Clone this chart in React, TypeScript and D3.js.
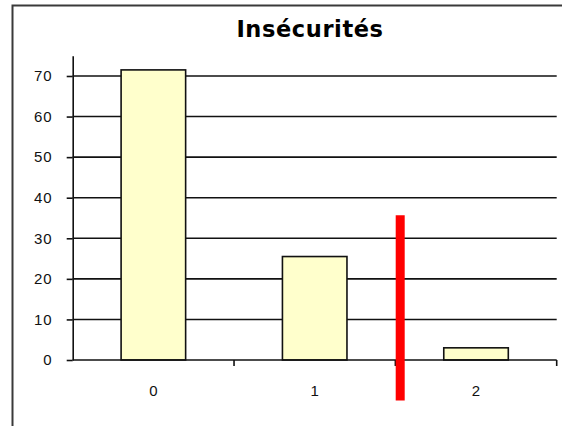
import React, { useRef, useEffect } from 'react';
import * as d3 from 'd3';

const categories = ['0', '1', '2'];
const values = [71.5, 25.5, 3.0];
const yTicks = [0, 10, 20, 30, 40, 50, 60, 70];
const title = 'Insécurités';
// red marker: position on the category axis (index units) and vertical extent
const markerPos = [1.53];
const markerRange = [-10, 35.7];

const App = () => {
  const svgRef = useRef<SVGSVGElement>(null);

  useEffect(() => {
    const width = 562;
    const height = 426;
    const svg = d3.select(svgRef.current).attr('viewBox', `0 0 ${width} ${height}`);
    svg.selectAll('*').remove();

    const left = 72.7;
    const right = 556.7;
    const bottom = 360;
    const top = 55.7;

    svg.append('rect').attr('width', width).attr('height', height).attr('fill', '#fff');

    // chart frame
    svg
      .append('path')
      .attr('d', `M12.5,${height + 5} V5.5 H${width + 5}`)
      .attr('fill', 'none')
      .attr('stroke', '#3a3a3a')
      .attr('stroke-width', 2);

    svg
      .append('text')
      .attr('x', 310)
      .attr('y', 37)
      .attr('text-anchor', 'middle')
      .attr('font-family', 'DejaVu Sans')
      .attr('font-weight', 'bold')
      .attr('font-size', 22.5)
      .attr('letter-spacing', 0.6)
      .attr('fill', '#000')
      .text(title);

    const x = d3.scaleBand().domain(categories).range([left, right]).paddingInner(0.6).paddingOuter(0.3);
    const step = (right - left) / categories.length;
    const xIdx = d3
      .scaleLinear()
      .domain([-0.5, categories.length - 0.5])
      .range([left, right]);
    const y = d3.scaleLinear().domain([0, 75]).range([bottom, top]);

    // gridlines
    svg
      .append('g')
      .selectAll('line')
      .data(yTicks.filter((d) => d > 0))
      .join('line')
      .attr('x1', left)
      .attr('x2', right)
      .attr('y1', (d) => y(d))
      .attr('y2', (d) => y(d))
      .attr('stroke', '#111')
      .attr('stroke-width', 1.6);

    // y axis
    const yAxis = svg
      .append('g')
      .attr('transform', `translate(${left},0)`)
      .call(d3.axisLeft(y).tickValues(yTicks).tickSize(6).tickPadding(14).tickSizeOuter(0));
    yAxis.select('.domain').attr('stroke', '#111').attr('stroke-width', 1.6);
    yAxis.selectAll('.tick line').attr('stroke', '#111').attr('stroke-width', 1.6);
    yAxis
      .selectAll('.tick text')
      .attr('font-family', 'Liberation Sans')
      .attr('font-size', 15)
      .attr('letter-spacing', 1)
      .attr('fill', '#111');

    // bars
    svg
      .append('g')
      .selectAll('rect')
      .data(values)
      .join('rect')
      .attr('x', (_, i) => x(categories[i]))
      .attr('y', (d) => y(d))
      .attr('width', x.bandwidth())
      .attr('height', (d) => y(0) - y(d))
      .attr('fill', '#ffffcc')
      .attr('stroke', '#111')
      .attr('stroke-width', 1.6);

    // x axis
    svg
      .append('line')
      .attr('x1', left)
      .attr('x2', right)
      .attr('y1', y(0))
      .attr('y2', y(0))
      .attr('stroke', '#111')
      .attr('stroke-width', 1.6);
    svg
      .append('g')
      .selectAll('line')
      .data(d3.range(1, categories.length + 1))
      .join('line')
      .attr('x1', (d) => left + step * d)
      .attr('x2', (d) => left + step * d)
      .attr('y1', y(0))
      .attr('y2', y(0) + 6)
      .attr('stroke', '#111')
      .attr('stroke-width', 1.6);
    svg
      .append('g')
      .selectAll('text')
      .data(categories)
      .join('text')
      .attr('x', (d) => x(d) + x.bandwidth() / 2)
      .attr('y', 396)
      .attr('text-anchor', 'middle')
      .attr('font-family', 'Liberation Sans')
      .attr('font-size', 15)
      .attr('fill', '#111')
      .text((d) => d);

    // red marker
    svg
      .append('g')
      .selectAll('line')
      .data(markerPos)
      .join('line')
      .attr('x1', (d) => xIdx(d))
      .attr('x2', (d) => xIdx(d))
      .attr('y1', y(markerRange[1]))
      .attr('y2', y(markerRange[0]))
      .attr('stroke', '#ff0000')
      .attr('stroke-width', 9);
  }, []);

  return (
    <svg
      ref={svgRef}
      width={562}
      height={426}
      style={{ position: 'absolute', left: 0, top: 0, display: 'block' }}
    />
  );
};

export default App;
